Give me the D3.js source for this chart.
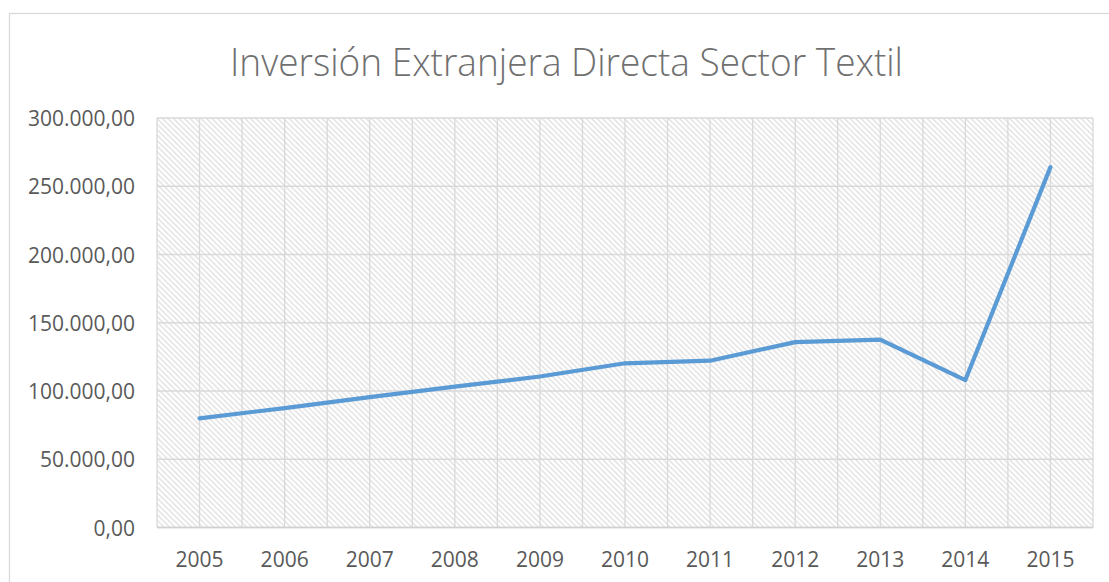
<!DOCTYPE html>
<html>
<head>
<meta charset="utf-8">
<script src="https://cdn.jsdelivr.net/npm/d3@7"></script>
<style>
html,body{margin:0;padding:0;background:#fff;}
svg{display:block;}
</style>
</head>
<body>
<svg id="chart" width="1109" height="582"></svg>
<script>
const titleText = "Inversión Extranjera Directa Sector Textil";
const years = ["2005","2006","2007","2008","2009","2010","2011","2012","2013","2014","2015"];
const values = [80000, 87500, 95500, 103200, 110600, 120300, 122200, 135800, 137600, 108000, 264000];
const yTicks = [0, 50000, 100000, 150000, 200000, 250000, 300000];

const W = 1109, H = 582;
const m = {left:157, right:1093, top:118, bottom:527.5};
const svg = d3.select("#chart");
const font = "'Open Sans', 'Noto Sans', sans-serif";

const loc = d3.formatLocale({decimal:",", thousands:".", grouping:[3], currency:["",""]});
const fmt = loc.format(",.2f");

// outer chart border
svg.append("rect").attr("x",9.5).attr("y",13.5).attr("width",1300).attr("height",800)
  .attr("fill","#fff").attr("stroke","#D9D9D9").attr("stroke-width",1.3);

// hatch pattern
const defs = svg.append("defs");
const pat = defs.append("pattern").attr("id","hatch").attr("patternUnits","userSpaceOnUse")
  .attr("width",5.5).attr("height",5.5);
pat.append("rect").attr("width",5.5).attr("height",5.5).attr("fill","#fff");
pat.append("path").attr("d","M-1,-1 L6.5,6.5 M-1,4.5 L1,6.5 M4.5,-1 L6.5,1")
  .attr("stroke","#DCDCDC").attr("stroke-width",1.15);

const x = d3.scaleBand().domain(years).range([m.left, m.right]).paddingInner(0).paddingOuter(0);
const y = d3.scaleLinear().domain([0,300000]).range([m.bottom, m.top]);

svg.append("rect").attr("x",m.left).attr("y",m.top).attr("width",m.right-m.left).attr("height",m.bottom-m.top)
  .attr("fill","url(#hatch)");

// horizontal gridlines
svg.append("g").selectAll("line").data(yTicks).join("line")
  .attr("x1",m.left).attr("x2",m.right)
  .attr("y1",d=>y(d)).attr("y2",d=>y(d))
  .attr("stroke","#D9D9D9").attr("stroke-width",1.3);

// vertical gridlines: band edges and centers
const vx = [];
years.forEach(yr=>{ vx.push(x(yr)); vx.push(x(yr)+x.bandwidth()/2); });
vx.push(m.right);
svg.append("g").selectAll("line").data(vx).join("line")
  .attr("x1",d=>d).attr("x2",d=>d)
  .attr("y1",m.top).attr("y2",m.bottom)
  .attr("stroke","#D9D9D9").attr("stroke-width",1.3);

// x axis line
svg.append("line").attr("x1",m.left).attr("x2",m.right).attr("y1",m.bottom).attr("y2",m.bottom)
  .attr("stroke","#D0D0D0").attr("stroke-width",1.5);

// y axis labels
const yAxis = d3.axisLeft(y).tickValues(yTicks).tickFormat(fmt).tickSize(0).tickPadding(0);
const gy = svg.append("g").attr("transform","translate(135,0)").call(yAxis);
gy.select(".domain").remove();
gy.selectAll("text").attr("font-family",font).attr("font-size",21).attr("fill","#595959").attr("dy","0.36em");

// x axis labels
const xAxis = d3.axisBottom(x).tickSize(0).tickPadding(0);
const gx = svg.append("g").attr("transform","translate(0,566.5)").call(xAxis);
gx.select(".domain").remove();
gx.selectAll("text").attr("font-family",font).attr("font-size",21).attr("fill","#595959").attr("dy","0");

// line
const line = d3.line().x((d,i)=>x(years[i])+x.bandwidth()/2).y(d=>y(d));
svg.append("path").datum(values).attr("d",line)
  .attr("fill","none").attr("stroke","#5B9BD5").attr("stroke-width",4.2)
  .attr("stroke-linejoin","round").attr("stroke-linecap","round");

// title
const t = svg.append("text").attr("x",566.5).attr("y",75.5).attr("text-anchor","middle")
  .attr("font-family",font).attr("font-weight",300).attr("font-size",38.5).attr("fill","#707070")
  .text(titleText);
const tl = t.node().getComputedTextLength();
if (Math.abs(tl-673) > 4) { t.attr("textLength",673).attr("lengthAdjust","spacingAndGlyphs"); }
</script>
</body>
</html>
